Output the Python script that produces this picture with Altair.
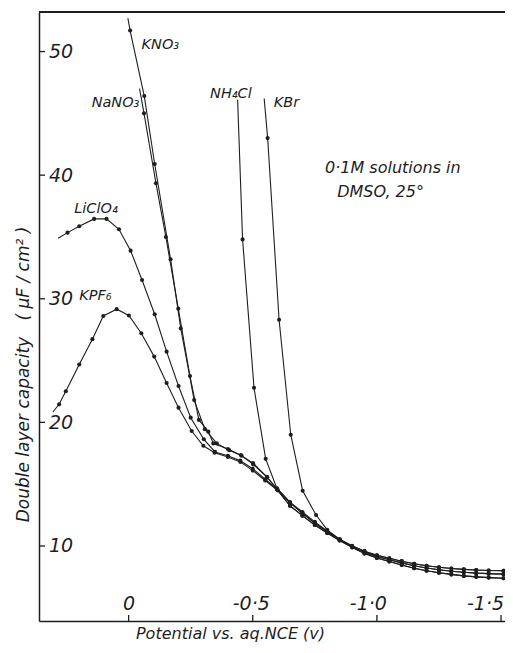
import altair as alt
import pandas as pd

# ---- curves: potential (V vs aq. NCE) and capacity (uF/cm2) ----
tail_v = [-0.65, -0.70, -0.75, -0.80, -0.85, -0.90, -0.95, -1.00, -1.05, -1.10,
          -1.15, -1.20, -1.25, -1.30, -1.35, -1.40, -1.45, -1.51]
tail_high = [13.55, 12.75, 11.95, 11.22, 10.52, 10.0, 9.58, 9.25, 9.0, 8.77,
             8.56, 8.4, 8.28, 8.18, 8.11, 8.05, 8.02, 8.0]
tail_mid = [13.5, 12.65, 11.85, 11.15, 10.5, 9.95, 9.5, 9.15, 8.88, 8.63,
            8.4, 8.22, 8.08, 7.96, 7.87, 7.8, 7.76, 7.72]
tail_low = [13.25, 12.45, 11.7, 11.05, 10.45, 9.89, 9.4, 9.03, 8.74, 8.46,
            8.2, 8.0, 7.84, 7.7, 7.58, 7.5, 7.44, 7.39]

kno3_v = [0.003, -0.006, -0.063, -0.105, -0.169, -0.210, -0.264, -0.307, -0.355,
          -0.405, -0.455, -0.502, -0.558, -0.597]
kno3_c = [52.7, 51.7, 46.4, 40.9, 33.2, 27.6, 21.8, 19.45, 18.3,
          17.75, 17.3, 16.6, 15.55, 14.6]

nano3_v = [-0.044, -0.062, -0.110, -0.150, -0.200, -0.247, -0.283, -0.321, -0.341,
           -0.400, -0.452, -0.501, -0.557, -0.597]
nano3_c = [47.0, 45.0, 39.35, 35.0, 29.2, 23.75, 20.2, 19.25, 18.3,
           17.85, 17.35, 16.7, 15.6, 14.65]

nh4cl_v = [-0.439, -0.459, -0.505, -0.552, -0.597]
nh4cl_c = [46.1, 34.8, 22.8, 17.05, 14.67]

kbr_v = [-0.546, -0.560, -0.606, -0.653, -0.701, -0.755, -0.800, -0.85, -0.90]
kbr_c = [46.2, 43.0, 28.3, 19.0, 14.47, 12.5, 11.3, 10.55, 10.02]

liclo4_v = [0.284, 0.246, 0.199, 0.139, 0.089, 0.039, -0.008, -0.054, -0.105,
            -0.153, -0.201, -0.250, -0.303, -0.348, -0.40, -0.45, -0.50, -0.55, -0.60]
liclo4_c = [34.9, 35.35, 35.87, 36.46, 36.46, 35.62, 33.89, 31.52, 28.75,
            25.72, 22.94, 20.38, 18.63, 17.61, 17.3, 16.9, 16.25, 15.4, 14.55]

kpf6_v = [0.305, 0.280, 0.253, 0.199, 0.146, 0.102, 0.048, -0.001, -0.051,
          -0.103, -0.153, -0.201, -0.254, -0.301, -0.346, -0.40, -0.45, -0.50, -0.55, -0.60]
kpf6_c = [20.84, 21.46, 22.52, 24.68, 26.73, 28.61, 29.16, 28.65, 27.21,
          25.32, 23.19, 21.19, 19.30, 18.11, 17.54, 17.2, 16.8, 16.1, 15.3, 14.5]

curves = [
    ("KNO3", kno3_v + tail_v, kno3_c + tail_mid),
    ("NaNO3", nano3_v + tail_v, nano3_c + tail_mid),
    ("NH4Cl", nh4cl_v + tail_v, nh4cl_c + tail_high),
    ("KBr", kbr_v + tail_v[6:], kbr_c + tail_high[6:]),
    ("LiClO4", liclo4_v + tail_v, liclo4_c + tail_low),
    ("KPF6", kpf6_v + tail_v, kpf6_c + tail_low),
]

rows = []
for name, vs, cs in curves:
    for i, (v, c) in enumerate(zip(vs, cs)):
        rows.append({"salt": name, "i": i, "v": v, "c": c})
df = pd.DataFrame(rows)

# ---- annotations ----
ann_text = ["KNO₃", "NaNO₃", "NH₄Cl", "KBr", "LiClO₄", "KPF₆"]
ann_v = [-0.052, 0.149, -0.328, -0.585, 0.219, 0.199]
ann_c = [50.5, 45.8, 46.6, 45.8, 37.3, 30.2]
ann = pd.DataFrame({"t": ann_text, "v": ann_v, "c": ann_c})

note_text = ["0·1M solutions in", "DMSO, 25°"]
note_v = [-0.791, -0.840]
note_c = [40.6, 38.6]
note = pd.DataFrame({"t": note_text, "v": note_v, "c": note_c})

# ---- ticks ----
y_ticks = [10, 20, 30, 40, 50]
x_ticks = [0, -0.5, -1.0, -1.5]
x_tick_labels = ["0", "-0·5", "-1·0", "-1·5"]

W, H = 466, 609
FONT = "DejaVu Sans"
INK = "#1e1e1e"
NB = "\u00a0"

label_expr = " : ".join(
    f"datum.value == {v} ? '{t}'" for v, t in zip(x_ticks, x_tick_labels)
) + " : ''"

y_title = "Double layer capacity" + NB * 3 + "(" + NB + "μF" + NB + "/" + NB + "cm²" + NB + ")"

xscale = alt.Scale(domain=[-1.516, 0.361], reverse=True, nice=False, zero=False)
yscale = alt.Scale(domain=[3.93, 53.2], nice=False, zero=False)

x_enc = alt.X("v:Q", scale=xscale, axis=alt.Axis(
    values=x_ticks, ticks=False, grid=False, labelExpr=label_expr,
    labelPadding=-18, labelBaseline="middle", labelFontSize=19,
    labelOffset={"condition": [
        {"test": "datum.value == -0.5", "value": -2},
        {"test": "datum.value == -1", "value": -9},
        {"test": "datum.value == -1.5", "value": -16}], "value": 0},
    title="Potential vs. aq.NCE (v)", titleX=191, titleY=17,
    titleAlign="center", titleBaseline="alphabetic", titleFontSize=16,
))
y_enc = alt.Y("c:Q", scale=yscale, axis=alt.Axis(
    values=y_ticks, ticks=False, grid=False, labelAlign="left",
    labelPadding=-9.5, labelBaseline="middle", labelFontSize=19,
    title=y_title, titleX=-11, titleY=362,
    titleAngle=270, titleAlign="center", titleBaseline="alphabetic",
    titleFontSize=17,
))

lines = alt.Chart(df).mark_line(color=INK, strokeWidth=1.1).encode(
    x=x_enc, y=y_enc, detail="salt:N", order="i:Q")

points = alt.Chart(df).transform_filter("datum.i > 0").mark_circle(
    color=INK, size=17, opacity=1).encode(x="v:Q", y="c:Q")

labels = alt.Chart(ann).mark_text(
    align="left", baseline="middle", font=FONT, fontStyle="italic",
    fontSize=14.5, color=INK).encode(x="v:Q", y="c:Q", text="t:N")

notes = alt.Chart(note).mark_text(
    align="left", baseline="middle", font=FONT, fontStyle="italic",
    fontSize=16, color=INK).encode(x="v:Q", y="c:Q", text="t:N")

ytick_df = pd.DataFrame({"c": y_ticks})
ytk = alt.Chart(ytick_df).mark_rule(color=INK, strokeWidth=1.3).encode(
    y="c:Q", x=alt.value(0), x2=alt.value(6))

xtick_df = pd.DataFrame({"v": x_ticks})
xtk = alt.Chart(xtick_df).mark_rule(color=INK, strokeWidth=1.3).encode(
    x="v:Q", y=alt.value(H), y2=alt.value(H - 6))

top = alt.Chart(xtick_df).mark_rule(color=INK, strokeWidth=2).encode(
    x=alt.value(0), x2=alt.value(W), y=alt.value(0))

chart = alt.layer(lines, points, labels, notes, ytk, xtk, top).properties(
    width=W, height=H,
    autosize=alt.AutoSizeParams(type="none"),
    padding={"left": 31, "top": 4, "right": 0, "bottom": 24},
).configure_view(stroke=None).configure_axis(
    labelFont=FONT, labelFontStyle="italic", labelColor=INK,
    titleFont=FONT, titleFontStyle="italic", titleFontWeight="normal",
    titleColor=INK, domainColor=INK, domainWidth=1.5,
)

chart.save("out.html", embed_options={"renderer": "svg", "actions": False})
